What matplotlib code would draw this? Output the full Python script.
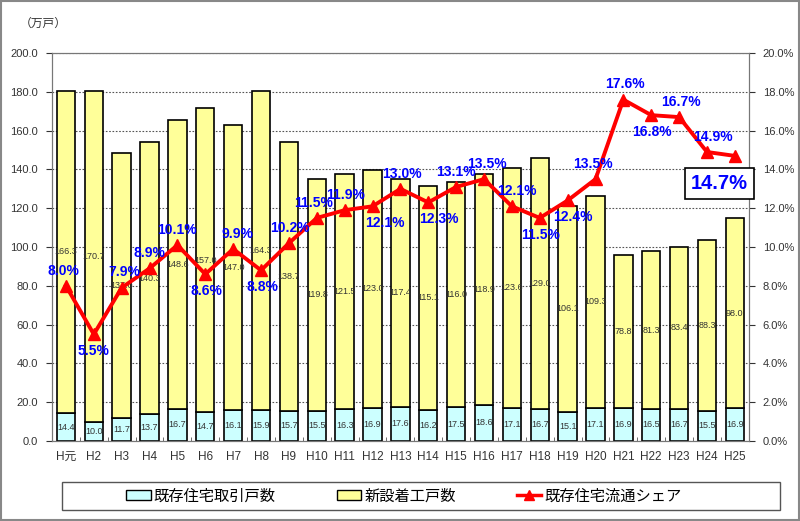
import numpy as np
import matplotlib
matplotlib.use('Agg')
from matplotlib import pyplot as plt
from matplotlib.patches import Rectangle
from matplotlib.ticker import FormatStrFormatter, FuncFormatter

plt.rcParams['font.family'] = ['Liberation Sans', 'Noto Sans CJK JP', 'DejaVu Sans']

# datos
nendo = ['H元', 'H2', 'H3', 'H4', 'H5', 'H6', 'H7', 'H8', 'H9', 'H10', 'H11', 'H12', 'H13',
         'H14', 'H15', 'H16', 'H17', 'H18', 'H19', 'H20', 'H21', 'H22', 'H23', 'H24', 'H25']
kizon = [14.4, 10.0, 11.7, 13.7, 16.7, 14.7, 16.1, 15.9, 15.7, 15.5, 16.3, 16.9, 17.6,
         16.2, 17.5, 18.6, 17.1, 16.7, 15.1, 17.1, 16.9, 16.5, 16.7, 15.5, 16.9]
shinsetsu = [166.3, 170.7, 137.0, 140.3, 148.6, 157.0, 147.0, 164.3, 138.7, 119.8, 121.5, 123.0, 117.4,
             115.1, 116.0, 118.9, 123.6, 129.0, 106.1, 109.3, 78.8, 81.3, 83.4, 88.3, 98.0]
share = [8.0, 5.5, 7.9, 8.9, 10.1, 8.6, 9.9, 8.8, 10.2, 11.5, 11.9, 12.1, 13.0,
         12.3, 13.1, 13.5, 12.1, 11.5, 12.4, 13.5, 17.6, 16.8, 16.7, 14.9, 14.7]
# donde va la etiqueta del porcentaje (a=arriba, b=abajo)
lado = ['a', 'b', 'a', 'a', 'a', 'b', 'a', 'b', 'a', 'a', 'a', 'b', 'a',
        'b', 'a', 'a', 'a', 'b', 'b', 'a', 'a', 'b', 'a', 'a', 'x']
corrx = [-2, 0, 3, 0, 0, 1, 4, 1, 1, -3, 1, 12, 2, 11, 0, 3, 5, 1, 5, -3, 2, 1, 2, 6, 0]

x = np.arange(len(nendo))
azul_claro = '#CCFFFF'
amarillo = '#FFFF99'

fig = plt.figure(figsize=(8, 5.21), dpi=100)
ax = fig.add_axes([0.065, 0.1536, 0.871, 0.7445])
ax2 = ax.twinx()

ax.bar(x, kizon, width=0.66, color=azul_claro, edgecolor='black', linewidth=1.2, zorder=2)
ax.bar(x, shinsetsu, width=0.66, bottom=kizon, color=amarillo, edgecolor='black', linewidth=1.2, zorder=2)

for i in range(len(x)):
    ax.text(x[i], kizon[i] / 2, '%.1f' % kizon[i], ha='center', va='center', fontsize=6.5, color='#333333', zorder=3)
    ax.text(x[i], kizon[i] + shinsetsu[i] / 2, '%.1f' % shinsetsu[i], ha='center', va='center',
            fontsize=6.5, color='#333333', zorder=3)

ax.set_xlim(-0.5, len(x) - 0.5)
ax.set_ylim(0, 200)
ax.set_yticks(np.arange(0, 201, 20))
ax.yaxis.set_major_formatter(FormatStrFormatter('%.1f'))
ax.set_xticks(x)
ax.set_xticklabels(nendo)
ax.set_xticks(np.arange(-0.5, len(x), 1), minor=True)
ax.tick_params(axis='x', which='major', length=0, pad=7, labelsize=8.5, colors='#333333')
ax.tick_params(axis='x', which='minor', length=3, direction='in', color='#555555')
ax.tick_params(axis='y', length=4, direction='out', labelsize=8, colors='#333333', pad=6)
ax.grid(axis='y', linestyle=(0, (1.5, 1.5)), color='#555555', linewidth=0.8)
ax.set_axisbelow(True)
for s in ax.spines.values():
    s.set_color('#777777')

ax2.plot(x, np.array(share) / 100, color='red', linewidth=2.8, marker='^', markersize=8, zorder=5)
ax2.set_ylim(0, 0.20)
ax2.set_yticks(np.arange(0, 0.201, 0.02))
ax2.yaxis.set_major_formatter(FuncFormatter(lambda v, p: '%.1f%%' % (v * 100)))
ax2.tick_params(axis='y', length=4, direction='out', labelsize=8, colors='#333333', pad=6)
for s in ax2.spines.values():
    s.set_color('#777777')

for i in range(len(x)):
    if lado[i] == 'x':
        continue
    dy = 11 if lado[i] == 'a' else -12
    ax2.annotate('%.1f%%' % share[i], (x[i], share[i] / 100), xytext=(corrx[i] * 0.72, dy),
                 textcoords='offset points', ha='center', va='center', color='#0000FF',
                 fontsize=10, fontweight='bold', zorder=6)

# la ultima en recuadro
ax2.annotate('%.1f%%' % share[-1], (x[-1], share[-1] / 100), xytext=(-11, -20),
             textcoords='offset points', ha='center', va='center', color='#0000FF',
             fontsize=14.5, fontweight='bold', zorder=6,
             bbox=dict(boxstyle='square,pad=0.3', facecolor='white', edgecolor='black', linewidth=1.2))

fig.text(0.025, 0.955, '（万戸）', fontsize=8.5, color='#333333', ha='left', va='center')

# leyenda
fig.patches.append(Rectangle((0.0775, 0.021), 0.8975, 0.054, transform=fig.transFigure,
                             facecolor='white', edgecolor='#555555', linewidth=1.0))
h1 = Rectangle((0, 0), 1, 1, facecolor=azul_claro, edgecolor='black', linewidth=1.0)
h2 = Rectangle((0, 0), 1, 1, facecolor=amarillo, edgecolor='black', linewidth=1.0)
h3 = plt.Line2D([], [], color='red', linewidth=2.5, marker='^', markersize=7)
fig.legend([h1, h2, h3], ['既存住宅取引戸数', '新設着工戸数', '既存住宅流通シェア'],
           loc='center', bbox_to_anchor=(0.505, 0.048), ncol=3, frameon=False,
           prop={'family': ['Noto Sans CJK JP', 'DejaVu Sans'], 'size': 11},
           handlelength=1.6, handleheight=0.6, handletextpad=0.2, columnspacing=4.0)

fig.patches.append(Rectangle((0.001, 0.001), 0.998, 0.998, transform=fig.transFigure,
                             facecolor='none', edgecolor='#888888', linewidth=1.5))

plt.savefig('out.png', dpi=100)
plt.close()
